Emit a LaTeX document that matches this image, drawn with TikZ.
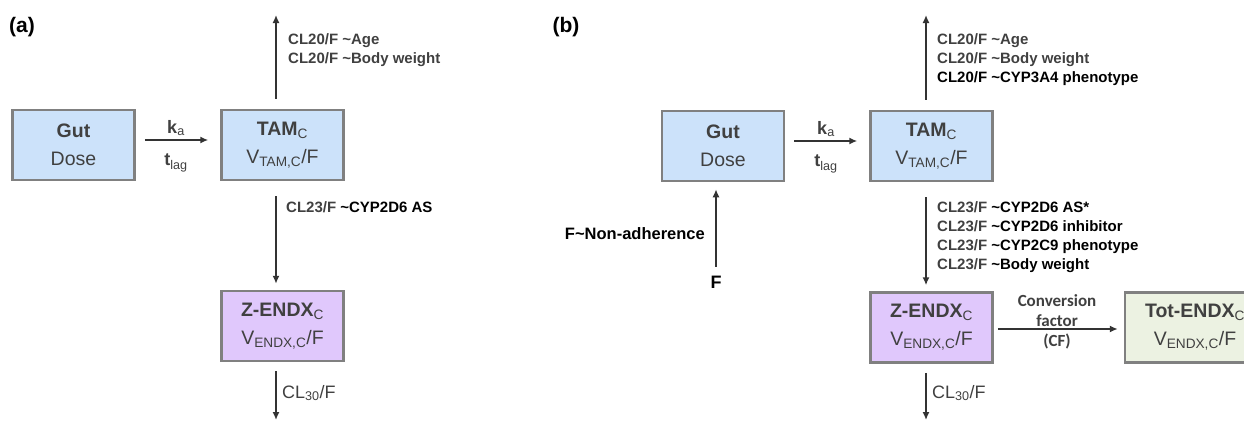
\documentclass[tikz,border=0pt]{standalone}
\usepackage{fontspec}
\setmainfont{Liberation Sans}
\newfontfamily\cffont{Carlito}
\usetikzlibrary{positioning,arrows.meta,calc}

\definecolor{boxline}{RGB}{128,128,128}
\definecolor{tamblue}{RGB}{204,226,250}
\definecolor{endxpurple}{RGB}{224,200,252}
\definecolor{totgreen}{RGB}{236,242,226}
\definecolor{txtgray}{RGB}{64,64,64}
\definecolor{linegray}{RGB}{51,51,51}

\tikzset{
  comp/.style={draw=boxline, line width=2.5pt, minimum width=122pt, minimum height=70pt,
    align=center, text=txtgray, inner sep=0pt, font=\fontsize{19.5}{28}\selectfont},
  flow/.style={draw=linegray, line width=1.5pt, -{Latex[length=8pt,width=7pt]}},
  cov/.style={align=left, anchor=north west, inner sep=0pt, text=txtgray,
    font=\bfseries\fontsize{15}{19}\selectfont},
  rate/.style={text=txtgray, inner sep=0pt, font=\fontsize{18}{20}\selectfont},
  panel/.style={inner sep=0pt, font=\bfseries\fontsize{21}{22}\selectfont},
  cfnote/.style={inner sep=0pt, align=center, text=txtgray, font=\cffont\bfseries\fontsize{17}{20}\selectfont},
}

\begin{document}
\begin{tikzpicture}[x=1pt,y=-1pt]
  \clip (0,0) rectangle (1244,421);

  % panel (a)
  \node[panel] (labA) at (22,27) {(a)};
  \node[comp, fill=tamblue] (gutA) at (73.5,145) {\textbf{Gut}\\Dose};
  \node[comp, fill=tamblue] (tamA) at (282.5,145) {\textbf{TAM}\textsubscript{C}\\V\textsubscript{TAM,C}/F};
  \node[comp, fill=endxpurple] (endxA) at (282.5,326) {\textbf{Z-ENDX}\textsubscript{C}\\V\textsubscript{ENDX,C}/F};
  \coordinate (outA) at (276,15);
  \coordinate (sinkA) at (276,420);

  \draw[flow, shorten <=9pt, shorten >=12pt] ([yshift=5pt]gutA.east) -- ([yshift=5pt]tamA.west);
  \node[rate] (kaA) at (176,128) {\textbf{k}\textsubscript{a}};
  \node[rate] (tlagA) at (176,163) {\textbf{t}\textsubscript{lag}};

  \draw[flow, shorten <=10pt] ([xshift=-6.5pt]tamA.north) -- (outA);
  \node[cov] (clA1) at (288,33) {CL20/F \textasciitilde Age\\CL20/F \textasciitilde Body weight};

  \draw[flow, shorten <=15pt, shorten >=6pt] ([xshift=-6.5pt]tamA.south) -- ([xshift=-6.5pt]endxA.north);
  \node[cov] (clA2) at (286,201) {CL23/F \textcolor{black}{\textasciitilde CYP2D6 AS}};

  \draw[flow, shorten <=9pt] ([xshift=-6.5pt]endxA.south) -- (sinkA);
  \node[rate, anchor=west] (cl30A) at (282,393) {CL\textsubscript{30}/F};

  % panel (b)
  \node[panel] (labB) at (566,27) {(b)};
  \node[comp, fill=tamblue] (gutB) at (723,146) {\textbf{Gut}\\Dose};
  \node[comp, fill=tamblue] (tamB) at (931.5,146) {\textbf{TAM}\textsubscript{C}\\V\textsubscript{TAM,C}/F};
  \node[comp, fill=endxpurple] (endxB) at (931.5,327.5) {\textbf{Z-ENDX}\textsubscript{C}\\V\textsubscript{ENDX,C}/F};
  \node[comp, fill=totgreen, minimum width=140pt] (totB) at (1195,327.5) {\textbf{Tot-ENDX}\textsubscript{C}\\V\textsubscript{ENDX,C}/F};
  \coordinate (outB) at (926,15);
  \coordinate (sinkB) at (926,420);

  \draw[flow, shorten <=9pt, shorten >=12pt] ([yshift=5pt]gutB.east) -- ([yshift=5pt]tamB.west);
  \node[rate] (kaB) at (826,129) {\textbf{k}\textsubscript{a}};
  \node[rate] (tlagB) at (826,164) {\textbf{t}\textsubscript{lag}};

  \node[rate, text=black, font=\bfseries\fontsize{18}{20}\selectfont] (fB) at (716,282) {F};
  \draw[flow, shorten <=9pt, shorten >=7pt] (fB.north) -- (fB.north |- gutB.south);
  \node[cov, anchor=east, text=black, font=\bfseries\fontsize{16.5}{20}\selectfont] (nonadhB) at (705,234) {F\textasciitilde Non-adherence};

  \draw[flow, shorten <=10pt] ([xshift=-5.5pt]tamB.north) -- (outB);
  \node[cov] (clB1) at (937,33) {CL20/F \textasciitilde Age\\CL20/F \textasciitilde Body weight\\\textcolor{black}{CL20/F \textasciitilde CYP3A4 phenotype}};

  \draw[flow, shorten <=15pt, shorten >=6pt] ([xshift=-5.5pt]tamB.south) -- ([xshift=-5.5pt]endxB.north);
  \node[cov] (clB2) at (937,201) {CL23/F \textcolor{black}{\textasciitilde CYP2D6 AS*}\\CL23/F \textcolor{black}{\textasciitilde CYP2D6 inhibitor}\\CL23/F \textcolor{black}{\textasciitilde CYP2C9 phenotype}\\CL23/F \textcolor{black}{\textasciitilde Body weight}};

  \draw[flow, shorten <=4pt, shorten >=6pt] ([yshift=-1.5pt]endxB.east) -- ([yshift=-1.5pt]totB.west);
  \node[cfnote, anchor=south] (convB) at (1057,327) {Conversion\\factor};
  \node[cfnote] (cfB) at (1057,341) {(CF)};

  \draw[flow, shorten <=9pt] ([xshift=-5.5pt]endxB.south) -- (sinkB);
  \node[rate, anchor=west] (cl30B) at (932,393) {CL\textsubscript{30}/F};
\end{tikzpicture}
\end{document}
